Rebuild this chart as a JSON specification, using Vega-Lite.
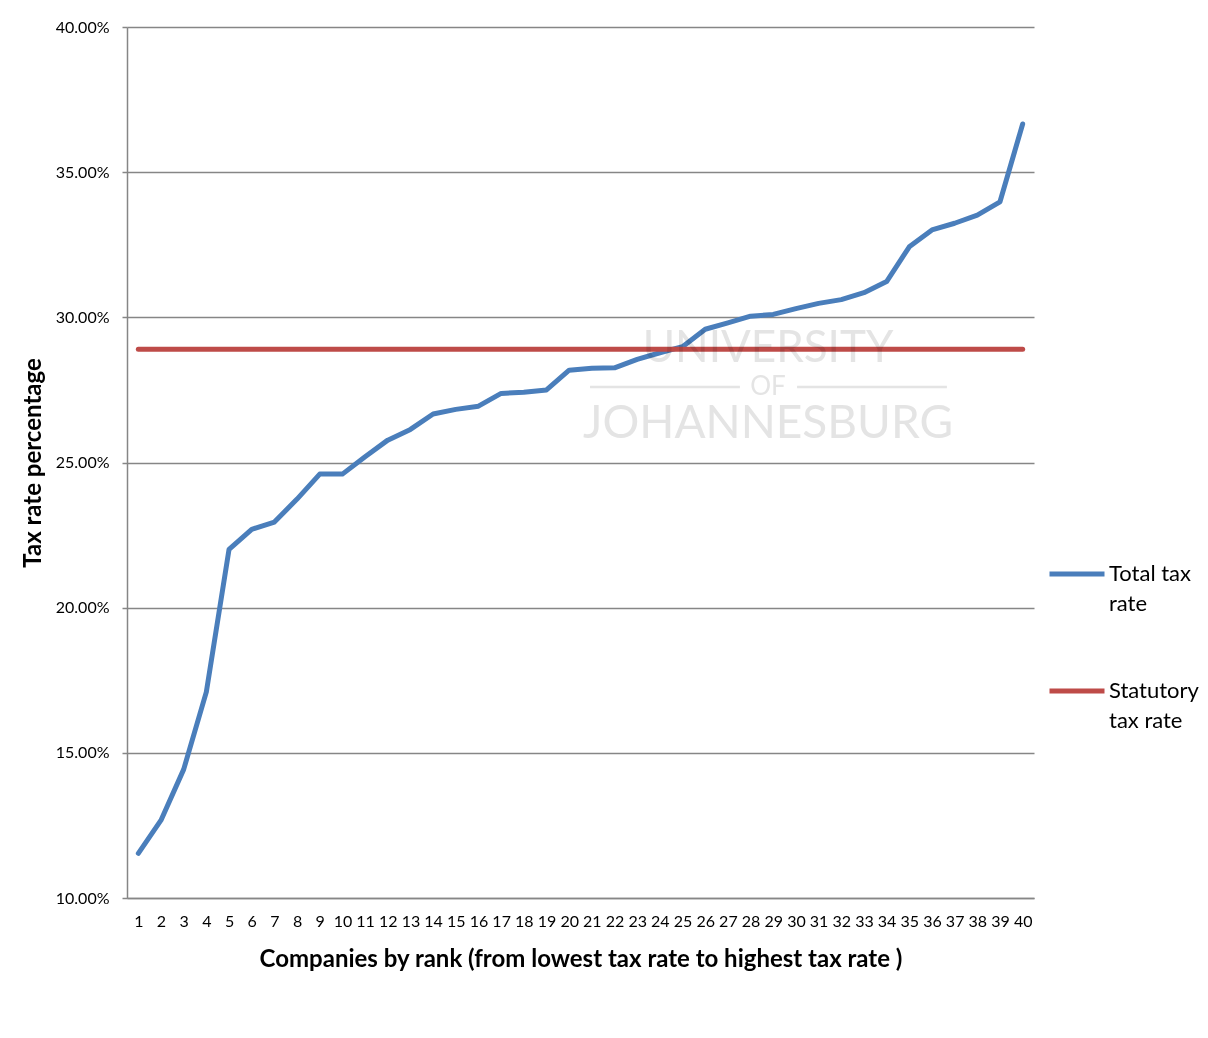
{
  "$schema": "https://vega.github.io/schema/vega-lite/v6.json",
  "width": 907,
  "height": 871,
  "autosize": {"type": "none"},
  "padding": {"left": 127, "top": 27, "right": 174, "bottom": 140},
  "background": "white",
  "config": {
    "font": "Lato",
    "view": {"stroke": null},
    "style": {"guide-label": {"lineHeight": 30}},
    "axis": {
      "labelColor": "#000000",
      "titleColor": "#000000",
      "titleFontWeight": "bold",
      "titleFontSize": 24,
      "domainColor": "#868686",
      "domainWidth": 1.5,
      "tickColor": "#868686",
      "tickWidth": 1.5,
      "gridColor": "#868686",
      "gridWidth": 1.5
    }
  },
  "datasets": {
    "rates": [
      {"rank": 1, "series": "Total tax rate", "rate": 0.1154},
      {"rank": 2, "series": "Total tax rate", "rate": 0.1268},
      {"rank": 3, "series": "Total tax rate", "rate": 0.1443},
      {"rank": 4, "series": "Total tax rate", "rate": 0.1710},
      {"rank": 5, "series": "Total tax rate", "rate": 0.2201},
      {"rank": 6, "series": "Total tax rate", "rate": 0.2270},
      {"rank": 7, "series": "Total tax rate", "rate": 0.2295},
      {"rank": 8, "series": "Total tax rate", "rate": 0.2374},
      {"rank": 9, "series": "Total tax rate", "rate": 0.2460},
      {"rank": 10, "series": "Total tax rate", "rate": 0.2460},
      {"rank": 11, "series": "Total tax rate", "rate": 0.2520},
      {"rank": 12, "series": "Total tax rate", "rate": 0.2577},
      {"rank": 13, "series": "Total tax rate", "rate": 0.2614},
      {"rank": 14, "series": "Total tax rate", "rate": 0.2667},
      {"rank": 15, "series": "Total tax rate", "rate": 0.2683},
      {"rank": 16, "series": "Total tax rate", "rate": 0.2694},
      {"rank": 17, "series": "Total tax rate", "rate": 0.2738},
      {"rank": 18, "series": "Total tax rate", "rate": 0.2742},
      {"rank": 19, "series": "Total tax rate", "rate": 0.2750},
      {"rank": 20, "series": "Total tax rate", "rate": 0.2818},
      {"rank": 21, "series": "Total tax rate", "rate": 0.2825},
      {"rank": 22, "series": "Total tax rate", "rate": 0.2826},
      {"rank": 23, "series": "Total tax rate", "rate": 0.2855},
      {"rank": 24, "series": "Total tax rate", "rate": 0.2878},
      {"rank": 25, "series": "Total tax rate", "rate": 0.2899},
      {"rank": 26, "series": "Total tax rate", "rate": 0.2959},
      {"rank": 27, "series": "Total tax rate", "rate": 0.2981},
      {"rank": 28, "series": "Total tax rate", "rate": 0.3004},
      {"rank": 29, "series": "Total tax rate", "rate": 0.3010},
      {"rank": 30, "series": "Total tax rate", "rate": 0.3030},
      {"rank": 31, "series": "Total tax rate", "rate": 0.3048},
      {"rank": 32, "series": "Total tax rate", "rate": 0.3061},
      {"rank": 33, "series": "Total tax rate", "rate": 0.3085},
      {"rank": 34, "series": "Total tax rate", "rate": 0.3123},
      {"rank": 35, "series": "Total tax rate", "rate": 0.3243},
      {"rank": 36, "series": "Total tax rate", "rate": 0.3301},
      {"rank": 37, "series": "Total tax rate", "rate": 0.3324},
      {"rank": 38, "series": "Total tax rate", "rate": 0.3352},
      {"rank": 39, "series": "Total tax rate", "rate": 0.3398},
      {"rank": 40, "series": "Total tax rate", "rate": 0.3666},
      {"rank": 1, "series": "Statutory tax rate", "rate": 0.289},
      {"rank": 2, "series": "Statutory tax rate", "rate": 0.289},
      {"rank": 3, "series": "Statutory tax rate", "rate": 0.289},
      {"rank": 4, "series": "Statutory tax rate", "rate": 0.289},
      {"rank": 5, "series": "Statutory tax rate", "rate": 0.289},
      {"rank": 6, "series": "Statutory tax rate", "rate": 0.289},
      {"rank": 7, "series": "Statutory tax rate", "rate": 0.289},
      {"rank": 8, "series": "Statutory tax rate", "rate": 0.289},
      {"rank": 9, "series": "Statutory tax rate", "rate": 0.289},
      {"rank": 10, "series": "Statutory tax rate", "rate": 0.289},
      {"rank": 11, "series": "Statutory tax rate", "rate": 0.289},
      {"rank": 12, "series": "Statutory tax rate", "rate": 0.289},
      {"rank": 13, "series": "Statutory tax rate", "rate": 0.289},
      {"rank": 14, "series": "Statutory tax rate", "rate": 0.289},
      {"rank": 15, "series": "Statutory tax rate", "rate": 0.289},
      {"rank": 16, "series": "Statutory tax rate", "rate": 0.289},
      {"rank": 17, "series": "Statutory tax rate", "rate": 0.289},
      {"rank": 18, "series": "Statutory tax rate", "rate": 0.289},
      {"rank": 19, "series": "Statutory tax rate", "rate": 0.289},
      {"rank": 20, "series": "Statutory tax rate", "rate": 0.289},
      {"rank": 21, "series": "Statutory tax rate", "rate": 0.289},
      {"rank": 22, "series": "Statutory tax rate", "rate": 0.289},
      {"rank": 23, "series": "Statutory tax rate", "rate": 0.289},
      {"rank": 24, "series": "Statutory tax rate", "rate": 0.289},
      {"rank": 25, "series": "Statutory tax rate", "rate": 0.289},
      {"rank": 26, "series": "Statutory tax rate", "rate": 0.289},
      {"rank": 27, "series": "Statutory tax rate", "rate": 0.289},
      {"rank": 28, "series": "Statutory tax rate", "rate": 0.289},
      {"rank": 29, "series": "Statutory tax rate", "rate": 0.289},
      {"rank": 30, "series": "Statutory tax rate", "rate": 0.289},
      {"rank": 31, "series": "Statutory tax rate", "rate": 0.289},
      {"rank": 32, "series": "Statutory tax rate", "rate": 0.289},
      {"rank": 33, "series": "Statutory tax rate", "rate": 0.289},
      {"rank": 34, "series": "Statutory tax rate", "rate": 0.289},
      {"rank": 35, "series": "Statutory tax rate", "rate": 0.289},
      {"rank": 36, "series": "Statutory tax rate", "rate": 0.289},
      {"rank": 37, "series": "Statutory tax rate", "rate": 0.289},
      {"rank": 38, "series": "Statutory tax rate", "rate": 0.289},
      {"rank": 39, "series": "Statutory tax rate", "rate": 0.289},
      {"rank": 40, "series": "Statutory tax rate", "rate": 0.289}
    ],
    "watermark": [
      {"word": "UNIVERSITY", "pos": 28.77, "level": 0.2891},
      {"word": "OF", "pos": 28.77, "level": 0.2760},
      {"word": "JOHANNESBURG", "pos": 28.77, "level": 0.2633}
    ],
    "watermarkRules": [
      {"from": 20.92, "to": 27.53, "level": 0.2760},
      {"from": 30.05, "to": 36.66, "level": 0.2760}
    ]
  },
  "resolve": {"scale": {"x": "independent"}, "axis": {"x": "independent"}},
  "layer": [
    {
      "data": {"name": "rates"},
      "mark": {"type": "line", "strokeWidth": 5, "strokeCap": "round", "strokeJoin": "round"},
      "encoding": {
        "x": {
          "field": "rank",
          "type": "ordinal",
          "sort": "ascending",
          "scale": {"type": "point", "padding": 0.5},
          "axis": {
            "orient": "bottom",
            "title": "Companies by rank (from lowest tax rate to highest tax rate )",
            "labelAngle": 0,
            "labelFontSize": 16,
            "labelPadding": 15,
            "ticks": false,
            "grid": false,
            "titlePadding": 18
          }
        },
        "y": {
          "field": "rate",
          "type": "quantitative",
          "scale": {"domain": [0.1, 0.4], "nice": false, "zero": false},
          "axis": {
            "title": "Tax rate percentage",
            "format": ".2%",
            "values": [0.1, 0.15, 0.2, 0.25, 0.3, 0.35, 0.4],
            "labelFontSize": 16,
            "labelPadding": 13,
            "tickSize": 5,
            "grid": true,
            "titlePadding": 10
          }
        },
        "color": {
          "field": "series",
          "type": "nominal",
          "scale": {"domain": ["Total tax rate", "Statutory tax rate"], "range": ["#4A7EBB", "#BE4B48"]},
          "legend": {
            "orient": "none",
            "legendX": 920,
            "legendY": 517,
            "title": null,
            "symbolType": "stroke",
            "symbolStrokeWidth": 5,
            "symbolSize": 3025,
            "labelFontSize": 22,
            "labelColor": "#000000",
            "labelOffset": 2,
            "rowPadding": 46,
            "labelLimit": 200,
            "labelExpr": "datum.label == 'Total tax rate' ? ['Total tax', 'rate'] : ['Statutory', 'tax rate']"
          }
        }
      }
    },
    {
      "layer": [
        {
          "data": {"name": "watermarkRules"},
          "mark": {"type": "rule", "color": "#e4e4e4", "strokeWidth": 2.5, "blend": "multiply"},
          "encoding": {
            "x": {"field": "from", "type": "quantitative", "scale": {"domain": [0.5, 40.5], "nice": false, "zero": false}, "axis": null},
            "x2": {"field": "to"},
            "y": {"field": "level", "type": "quantitative"}
          }
        },
        {
          "data": {"name": "watermark"},
          "transform": [{"filter": "datum.word == 'UNIVERSITY'"}],
          "mark": {"type": "text", "color": "#e4e4e4", "font": "Lato", "fontWeight": "normal", "fontSize": 44, "baseline": "middle", "align": "center", "blend": "multiply"},
          "encoding": {
            "x": {"field": "pos", "type": "quantitative", "axis": null},
            "y": {"field": "level", "type": "quantitative"},
            "text": {"field": "word"}
          }
        },
        {
          "data": {"name": "watermark"},
          "transform": [{"filter": "datum.word == 'OF'"}],
          "mark": {"type": "text", "color": "#e4e4e4", "font": "Lato", "fontWeight": "normal", "fontSize": 26, "baseline": "middle", "align": "center", "blend": "multiply"},
          "encoding": {
            "x": {"field": "pos", "type": "quantitative", "axis": null},
            "y": {"field": "level", "type": "quantitative"},
            "text": {"field": "word"}
          }
        },
        {
          "data": {"name": "watermark"},
          "transform": [{"filter": "datum.word == 'JOHANNESBURG'"}],
          "mark": {"type": "text", "color": "#e4e4e4", "font": "Lato", "fontWeight": "normal", "fontSize": 46, "baseline": "middle", "align": "center", "blend": "multiply"},
          "encoding": {
            "x": {"field": "pos", "type": "quantitative", "axis": null},
            "y": {"field": "level", "type": "quantitative"},
            "text": {"field": "word"}
          }
        }
      ]
    }
  ]
}
